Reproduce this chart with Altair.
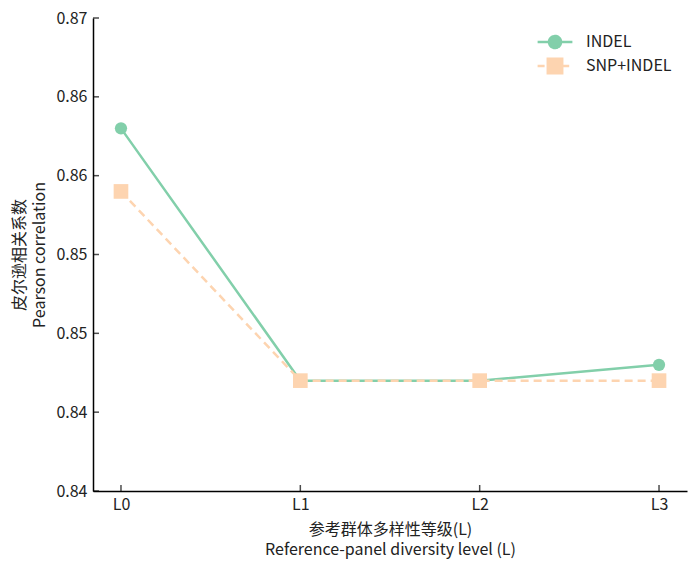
import altair as alt
import pandas as pd

levels = ["L0", "L1", "L2", "L3"]
indel = [0.863, 0.847, 0.847, 0.848]
snp_indel = [0.859, 0.847, 0.847, 0.847]
series_names = ["INDEL", "SNP+INDEL"]
colors = ["#82cfaa", "#fdd4b0"]
y_ticks = [0.84, 0.845, 0.85, 0.855, 0.86, 0.865, 0.87]

rows = []
for s, vals in zip(series_names, [indel, snp_indel]):
    for lv, v in zip(levels, vals):
        rows.append({"level": lv, "value": v, "series": s})
df = pd.DataFrame(rows)
yt_df = pd.DataFrame({"value": y_ticks})
xt_df = pd.DataFrame({"level": levels})

FONT = "Noto Sans CJK SC"
W, H = 594, 473

x_scale = alt.Scale(type="point", padding=0.156, domain=levels)
y_scale = alt.Scale(domain=[0.84, 0.87], nice=False, zero=False)

x_axis = alt.Axis(title=["参考群体多样性等级(L)", "Reference-panel diversity level (L)"],
                  labelAngle=0, labelAlign="center", labelBaseline="top",
                  ticks=False, labelPadding=5, titlePadding=9)
y_axis = alt.Axis(title=["皮尔逊相关系数", "Pearson correlation"],
                  values=y_ticks, format=".2f", ticks=False,
                  labelPadding=6, titlePadding=8)
x_enc = alt.X("level:N", sort=levels, scale=x_scale, axis=x_axis)
y_enc = alt.Y("value:Q", scale=y_scale, axis=y_axis)

circle_path = "M-2.9,0L2.9,0M1,0A1,1,0,1,1,-1,0A1,1,0,1,1,1,0Z"
square_path = "M-2.9,0L-1.2,0L-1.2,-1.2L1.2,-1.2L1.2,1.2L-1.2,1.2L-1.2,0M1.2,0L2.9,0"

sel_color = f"(datum.value === '{series_names[0]}' || datum.series === '{series_names[0]}') ? '{colors[0]}' : '{colors[1]}'"
sel_dash = f"datum.value === '{series_names[0]}' ? [1,0] : [7,3.2,58,3,4,4]"

legend = alt.Legend(
    title=None, orient="none", legendX=454, legendY=16,
    labelFont=FONT, labelFontSize=16, labelColor="#222",
    labelOffset=23, symbolSize=144, rowPadding=0, symbolStrokeWidth=2.5,
    symbolOpacity=1, symbolDash=alt.ExprRef(sel_dash))

base = alt.Chart(df).encode(x=x_enc, y=y_enc)

line_indel = base.transform_filter(alt.datum.series == series_names[0]).mark_line(
    strokeWidth=2.5, color=colors[0])
line_snp = base.transform_filter(alt.datum.series == series_names[1]).mark_line(
    strokeWidth=2.5, color=colors[1], strokeDash=[8, 5])

pts_indel = base.transform_filter(alt.datum.series == series_names[0]).mark_point(
    filled=True, size=150, opacity=1, shape="circle", color=colors[0])
pts_snp = base.transform_filter(alt.datum.series == series_names[1]).mark_point(
    filled=True, size=215, opacity=1, shape="square", color=colors[1])

legend_layer = alt.Chart(df).transform_filter("false").mark_point(
    filled=True, strokeWidth=2.5, opacity=1,
    fill=alt.ExprRef(sel_color), stroke=alt.ExprRef(sel_color)).encode(
    x=x_enc, y=y_enc,
    shape=alt.Shape("series:N", scale=alt.Scale(domain=series_names, range=[circle_path, square_path]), legend=legend),
)

y_ticks_layer = alt.Chart(yt_df).mark_tick(color="#000", thickness=1.5, size=6, orient="horizontal").encode(
    y=y_enc, x=alt.value(3))
x_ticks_layer = alt.Chart(xt_df).mark_tick(color="#000", thickness=1.5, size=6, orient="vertical").encode(
    x=x_enc, y=alt.value(H - 3))

chart = alt.layer(line_indel, line_snp, pts_indel, pts_snp, legend_layer,
                  y_ticks_layer, x_ticks_layer).properties(
    width=W, height=H,
    autosize=alt.AutoSizeParams(type="none"),
    padding={"left": 85, "top": 10, "right": 5, "bottom": 70},
).configure_view(stroke=None).configure_axis(
    grid=False, domainColor="#000", domainWidth=1.5,
    labelFont=FONT, labelFontSize=16, labelColor="#222",
    titleFont=FONT, titleFontSize=16, titleFontWeight="normal", titleColor="#222",
    titleLineHeight=20,
).configure_legend(labelFont=FONT)

chart.save("out.html", embed_options={"renderer": "svg", "actions": False})
